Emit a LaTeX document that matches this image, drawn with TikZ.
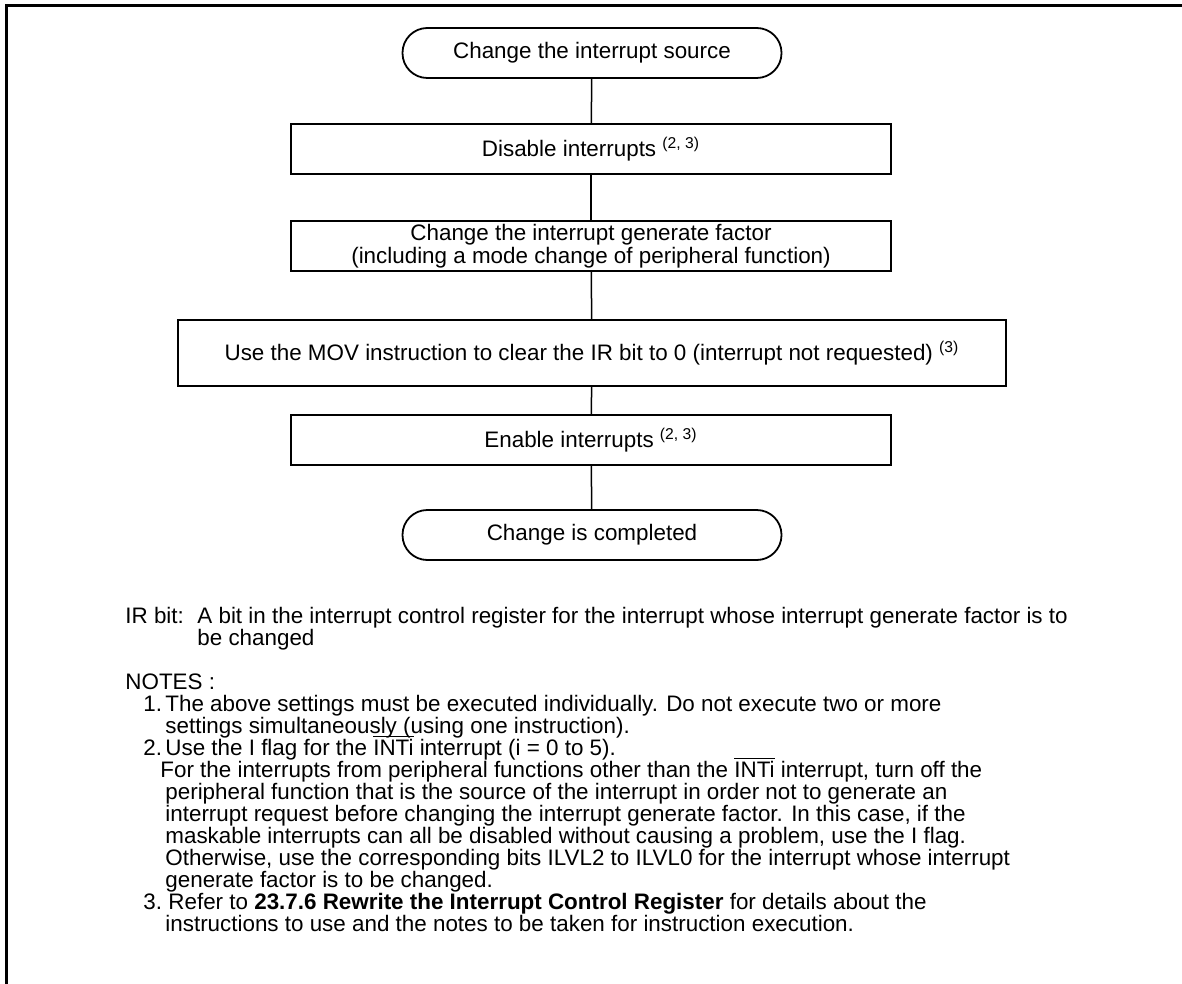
\documentclass[tikz,border=0pt]{standalone}
\usepackage{fontspec}
\setmainfont{Liberation Sans}
\newcommand\notefont{\fontsize{11.2}{11}\selectfont\lineskiplimit-100pt\relax}

\begin{document}
\begin{tikzpicture}[x=0.5pt, y=-0.5pt,
	every node/.style={font=\fontsize{11.2}{10.1}\selectfont},
	terminal/.style={draw, line width=0.9pt, rounded corners=12.4pt, minimum width=189.5pt, minimum height=25pt, inner sep=0pt},
	procbox/.style={draw, line width=0.9pt, minimum width=300pt, minimum height=25pt, inner sep=0pt, align=center},
	link/.style={line width=0.75pt},
	notetext/.style={anchor=base west, inner sep=0pt, align=left, font=\notefont}]
	\useasboundingbox (0,0) rectangle (1182,984);
	% frame
	\draw[line width=1.4pt] (1182,5.5) -- (6.3,5.5) -- (6.3,984);
	% flow
	\node[terminal] (start) at (592,53) {Change the interrupt source};
	\node[procbox] (disable) at (591,149) {Disable interrupts \textsuperscript{(2, 3)}};
	\node[procbox] (factor) at (591,246) {Change the interrupt generate factor\\(including a mode change of peripheral function)};
	\node[procbox, minimum width=414pt, minimum height=33pt] (clearir) at (592,353) {Use the MOV instruction to clear the IR bit to 0 (interrupt not requested) \textsuperscript{(3)}};
	\node[procbox] (enable) at (591,440) {Enable interrupts \textsuperscript{(2, 3)}};
	\node[terminal] (done) at (592,535) {Change is completed};
	\draw[link] (start) -- (disable);
	\draw[link] (disable) -- (factor);
	\draw[link] (factor) -- (clearir);
	\draw[link] (clearir) -- (enable);
	\draw[link] (enable) -- (done);
	% notes (placed by the baseline of their last line)
	\node[notetext] (irlbl) at (125,623) {IR bit:};
	\node[notetext] (irtxt) at (197,645) {A bit in the interrupt control register for the interrupt whose interrupt generate factor is to\\be changed};
	\node[notetext] (notes) at (125,689) {NOTES :};
	\node[notetext] (num1) at (143,711) {1.};
	\node[notetext] (note1) at (165,733) {The above settings must be executed individually. Do not execute two or more\\settings simultaneously (using one instruction).};
	\node[notetext] (num2) at (143,755) {2.};
	\node[notetext] (note2) at (165,887) {Use the I flag for the $\overline{\mbox{INTi}}$ interrupt (i = 0 to 5).\\
		\hspace*{-2.5pt}For the interrupts from peripheral functions other than the $\overline{\mbox{INTi}}$ interrupt, turn off the\\
		peripheral function that is the source of the interrupt in order not to generate an\\
		interrupt request before changing the interrupt generate factor. In this case, if the\\
		maskable interrupts can all be disabled without causing a problem, use the I flag.\\
		Otherwise, use the corresponding bits ILVL2 to ILVL0 for the interrupt whose interrupt\\
		generate factor is to be changed.};
	\node[notetext] (num3) at (143,909) {3.};
	\node[notetext] (note3) at (165,931) {\hspace*{1.5pt}Refer to \textbf{23.7.6 Rewrite the Interrupt Control Register} for details about the\\instructions to use and the notes to be taken for instruction execution.};
\end{tikzpicture}
\end{document}
